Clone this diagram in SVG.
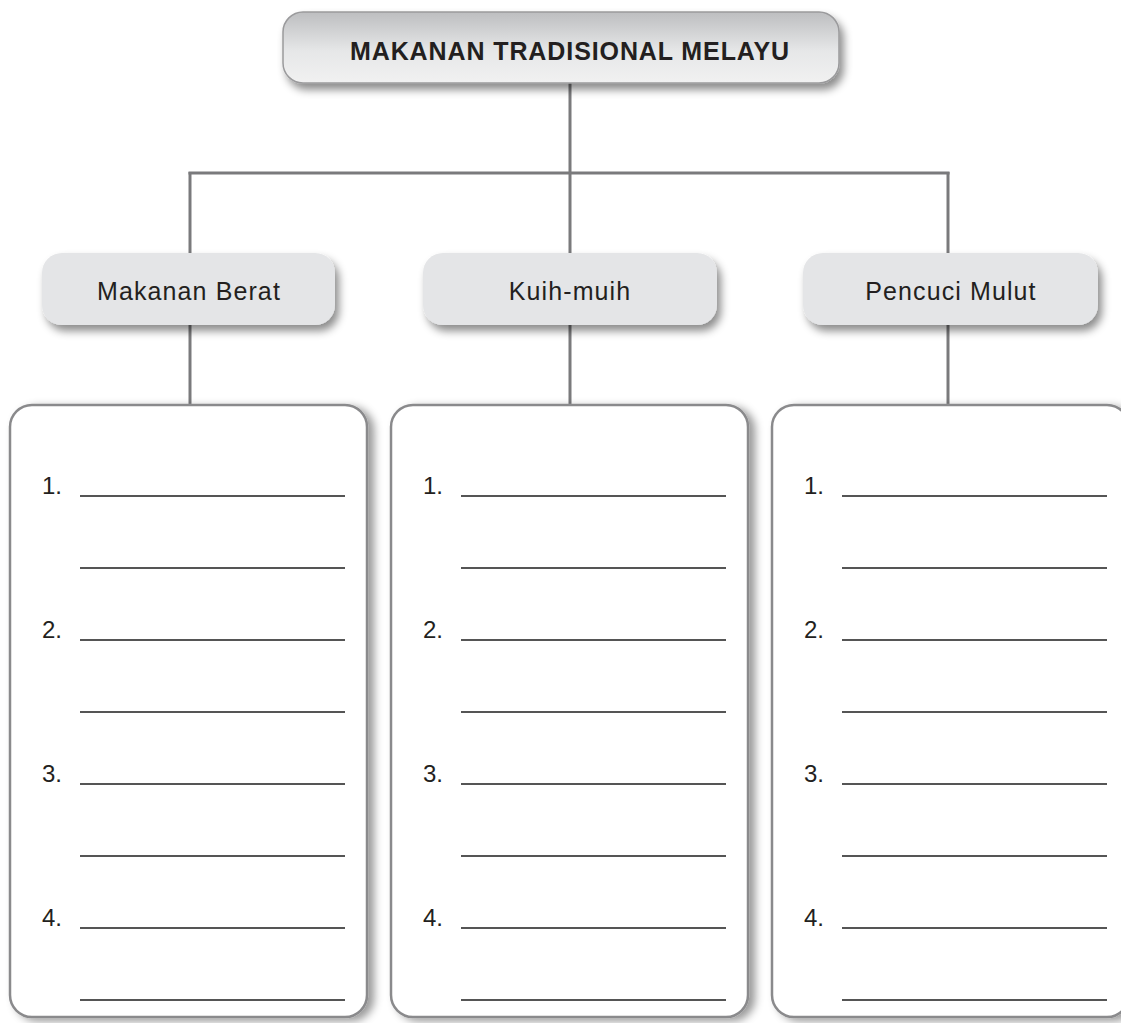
<svg xmlns="http://www.w3.org/2000/svg" width="1121" height="1023" viewBox="0 0 1121 1023">
<defs>
<linearGradient id="gTop" x1="0" y1="0" x2="0" y2="1">
<stop offset="0" stop-color="#bdbec0"/>
<stop offset="0.55" stop-color="#e6e7e8"/>
<stop offset="1" stop-color="#f1f1f1"/>
</linearGradient>
<filter id="sh" x="-10%" y="-20%" width="125%" height="150%">
<feDropShadow dx="4" dy="6" stdDeviation="4" flood-color="#000" flood-opacity="0.45"/>
</filter>
<filter id="shBig" x="-10%" y="-5%" width="125%" height="115%">
<feDropShadow dx="6" dy="3" stdDeviation="4" flood-color="#000" flood-opacity="0.4"/>
</filter>
</defs>
<style>
.conn{stroke:#7a7a7c;stroke-width:3;fill:none}
.hdr{fill:#e4e5e7;filter:url(#sh)}
.big{fill:#ffffff;stroke:#8a8a8c;stroke-width:2.5;filter:url(#shBig)}
.blank{stroke:#555;stroke-width:2}
.lbl{font-family:"Liberation Sans",Arial,sans-serif;font-size:25px;letter-spacing:1.1px;fill:#231f20}
.num{font-family:"Liberation Sans",Arial,sans-serif;font-size:24px;fill:#231f20}
.ttl{font-family:"Liberation Sans",Arial,sans-serif;font-size:25px;letter-spacing:0.9px;font-weight:bold;fill:#231f20}
</style>
<rect width="1121" height="1023" fill="#ffffff"/>
<g id="connectors">
<line class="conn" x1="570" y1="83" x2="570" y2="405"/>
<line class="conn" x1="188.5" y1="173" x2="949.5" y2="173"/>
<line class="conn" x1="190" y1="172" x2="190" y2="405"/>
<line class="conn" x1="948" y1="172" x2="948" y2="405"/>
</g>
<g id="title">
<rect x="283" y="12" width="556" height="71" rx="20" fill="url(#gTop)" stroke="#9a9a9c" stroke-width="1.5" filter="url(#sh)"/>
<text class="ttl" x="570" y="60" text-anchor="middle">MAKANAN TRADISIONAL MELAYU</text>
</g>
<g id="cat1">
<rect class="hdr" x="42" y="253" width="293" height="72" rx="20"/>
<text class="lbl" x="189" y="300" text-anchor="middle">Makanan Berat</text>
</g>
<g id="cat2">
<rect class="hdr" x="423" y="253" width="294" height="72" rx="20"/>
<text class="lbl" x="570" y="300" text-anchor="middle">Kuih-muih</text>
</g>
<g id="cat3">
<rect class="hdr" x="803" y="253" width="295" height="72" rx="20"/>
<text class="lbl" x="951" y="300" text-anchor="middle">Pencuci Mulut</text>
</g>
<g id="list1">
<rect class="big" x="10" y="405" width="357" height="612" rx="22"/>
<text class="num" x="42" y="494">1.</text>
<text class="num" x="42" y="638">2.</text>
<text class="num" x="42" y="782">3.</text>
<text class="num" x="42" y="926">4.</text>
<g class="blank">
<line x1="80" y1="496" x2="345" y2="496"/><line x1="80" y1="568" x2="345" y2="568"/>
<line x1="80" y1="640" x2="345" y2="640"/><line x1="80" y1="712" x2="345" y2="712"/>
<line x1="80" y1="784" x2="345" y2="784"/><line x1="80" y1="856" x2="345" y2="856"/>
<line x1="80" y1="928" x2="345" y2="928"/><line x1="80" y1="1000" x2="345" y2="1000"/>
</g>
</g>
<g id="list2">
<rect class="big" x="391" y="405" width="357" height="612" rx="22"/>
<text class="num" x="423" y="494">1.</text>
<text class="num" x="423" y="638">2.</text>
<text class="num" x="423" y="782">3.</text>
<text class="num" x="423" y="926">4.</text>
<g class="blank">
<line x1="461" y1="496" x2="726" y2="496"/><line x1="461" y1="568" x2="726" y2="568"/>
<line x1="461" y1="640" x2="726" y2="640"/><line x1="461" y1="712" x2="726" y2="712"/>
<line x1="461" y1="784" x2="726" y2="784"/><line x1="461" y1="856" x2="726" y2="856"/>
<line x1="461" y1="928" x2="726" y2="928"/><line x1="461" y1="1000" x2="726" y2="1000"/>
</g>
</g>
<g id="list3">
<rect class="big" x="772" y="405" width="357" height="612" rx="22"/>
<text class="num" x="804" y="494">1.</text>
<text class="num" x="804" y="638">2.</text>
<text class="num" x="804" y="782">3.</text>
<text class="num" x="804" y="926">4.</text>
<g class="blank">
<line x1="842" y1="496" x2="1107" y2="496"/><line x1="842" y1="568" x2="1107" y2="568"/>
<line x1="842" y1="640" x2="1107" y2="640"/><line x1="842" y1="712" x2="1107" y2="712"/>
<line x1="842" y1="784" x2="1107" y2="784"/><line x1="842" y1="856" x2="1107" y2="856"/>
<line x1="842" y1="928" x2="1107" y2="928"/><line x1="842" y1="1000" x2="1107" y2="1000"/>
</g>
</g>
</svg>
